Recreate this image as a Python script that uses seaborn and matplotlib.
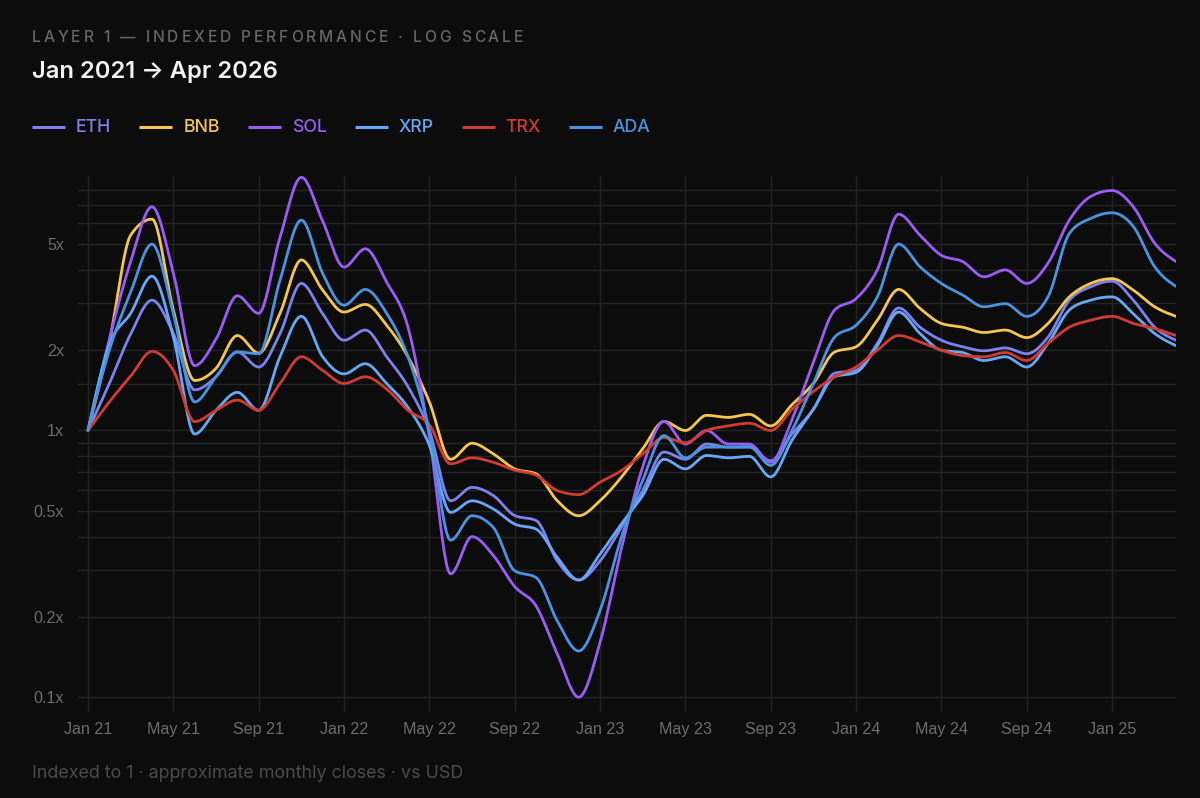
import numpy as np
import pandas as pd
import matplotlib
matplotlib.use("Agg")
import matplotlib.pyplot as plt
import seaborn as sns
from matplotlib.lines import Line2D
from matplotlib.ticker import FixedLocator, NullFormatter

# ---------------- data (indexed monthly closes, Jan 2021 .. Apr 2025) ----------------
series_names = ["ETH", "BNB", "SOL", "XRP", "TRX", "ADA"]
series_colors = ["#7b82ee", "#f4c64f", "#9b5cf6", "#67a8f6", "#d13b30", "#4a93e0"]

x_tick_labels = ["Jan 21", "May 21", "Sep 21", "Jan 22", "May 22", "Sep 22", "Jan 23",
                 "May 23", "Sep 23", "Jan 24", "May 24", "Sep 24", "Jan 25"]
y_tick_values = [0.1, 0.2, 0.5, 1, 2, 5]
y_tick_labels = ["0.1x", "0.2x", "0.5x", "1x", "2x", "5x"]
y_minor_values = [0.3, 0.4, 0.6, 0.7, 0.8, 0.9, 1.5, 3, 4, 6, 7, 8]

ETH = [1.0, 1.5, 2.3, 3.08, 2.31, 1.42, 1.59, 1.97, 1.73, 2.31, 3.56, 2.74, 2.18, 2.38, 1.89, 1.46,
       1.0, 0.545, 0.612, 0.57, 0.48, 0.46, 0.324, 0.275, 0.324, 0.433, 0.595, 0.83, 0.78, 0.89,
       0.866, 0.866, 0.77, 0.97, 1.2, 1.64, 1.68, 2.12, 2.88, 2.44, 2.18, 2.06, 1.99, 2.04, 1.94,
       2.24, 3.08, 3.46, 3.63, 3.08, 2.44, 2.18]
BNB = [1.0, 2.15, 5.4, 6.2, 2.83, 1.54, 1.71, 2.27, 1.95, 2.75, 4.36, 3.36, 2.78, 2.97, 2.48, 1.89,
       1.28, 0.78, 0.896, 0.817, 0.718, 0.688, 0.545, 0.479, 0.545, 0.668, 0.853, 1.08, 1.0, 1.14,
       1.12, 1.15, 1.04, 1.25, 1.5, 1.97, 2.06, 2.59, 3.38, 2.87, 2.52, 2.44, 2.33, 2.38, 2.23,
       2.52, 3.17, 3.56, 3.71, 3.36, 2.91, 2.68]
SOL = [1.0, 2.2, 4.3, 6.9, 3.9, 1.75, 2.2, 3.2, 2.75, 5.3, 8.9, 6.1, 4.1, 4.8, 3.6, 2.44,
       0.95, 0.29, 0.40, 0.34, 0.26, 0.22, 0.145, 0.100, 0.16, 0.36, 0.73, 1.08, 0.89, 1.0,
       0.89, 0.89, 0.76, 1.1, 1.8, 2.83, 3.12, 4.0, 6.47, 5.4, 4.54, 4.3, 3.77, 4.0, 3.56,
       4.24, 6.15, 7.54, 7.94, 6.9, 5.04, 4.3]
XRP = [1.0, 2.1, 2.75, 3.79, 2.25, 0.97, 1.19, 1.39, 1.19, 1.89, 2.68, 1.89, 1.63, 1.78, 1.50, 1.22,
       0.88, 0.493, 0.545, 0.508, 0.446, 0.427, 0.334, 0.275, 0.344, 0.446, 0.57, 0.78, 0.718, 0.806,
       0.79, 0.80, 0.67, 0.92, 1.2, 1.59, 1.65, 2.08, 2.78, 2.31, 2.0, 1.96, 1.83, 1.89, 1.73,
       2.12, 2.83, 3.08, 3.17, 2.74, 2.31, 2.08]
TRX = [1.0, 1.28, 1.6, 1.98, 1.68, 1.08, 1.19, 1.30, 1.19, 1.50, 1.89, 1.68, 1.50, 1.59, 1.43, 1.19,
       1.05, 0.75, 0.79, 0.76, 0.71, 0.68, 0.595, 0.575, 0.64, 0.707, 0.817, 0.94, 0.90, 1.0,
       1.04, 1.065, 1.0, 1.2, 1.4, 1.59, 1.73, 2.0, 2.27, 2.15, 2.0, 1.91, 1.89, 1.96, 1.83,
       2.12, 2.44, 2.59, 2.68, 2.52, 2.41, 2.27]
ADA = [1.0, 2.0, 3.3, 5.0, 2.75, 1.28, 1.59, 1.97, 1.94, 3.66, 6.15, 3.88, 2.95, 3.38, 2.75, 1.89,
       1.0, 0.388, 0.479, 0.433, 0.298, 0.281, 0.193, 0.149, 0.211, 0.397, 0.649, 0.957, 0.79, 0.866,
       0.866, 0.87, 0.74, 1.0, 1.5, 2.24, 2.48, 3.17, 5.0, 4.11, 3.56, 3.22, 2.91, 2.99, 2.68,
       3.17, 5.48, 6.24, 6.55, 5.82, 4.11, 3.47]

series_values = [ETH, BNB, SOL, XRP, TRX, ADA]


# ---------------- monotone (d3 curveMonotoneX-like) rendering of the monthly points ----------------
def monotone_path(y, steps=24):
    y = np.log10(np.asarray(y, float))
    n = len(y)
    s = np.diff(y)  # h = 1
    t = np.zeros(n)
    for i in range(1, n - 1):
        s0, s1 = s[i - 1], s[i]
        p = (s0 + s1) / 2.0
        t[i] = (np.sign(s0) + np.sign(s1)) * min(abs(s0), abs(s1), 0.5 * abs(p))
    t[0] = (3 * s[0] - t[1]) / 2.0
    t[-1] = (3 * s[-1] - t[-2]) / 2.0
    xs, ys = [], []
    u = np.linspace(0, 1, steps, endpoint=False)
    h00 = 2 * u**3 - 3 * u**2 + 1
    h10 = u**3 - 2 * u**2 + u
    h01 = -2 * u**3 + 3 * u**2
    h11 = u**3 - u**2
    for i in range(n - 1):
        xs.append(i + u)
        ys.append(h00 * y[i] + h10 * t[i] + h01 * y[i + 1] + h11 * t[i + 1])
    xs.append([n - 1])
    ys.append([y[-1]])
    return np.concatenate(xs), 10 ** np.concatenate(ys)


frames = []
for name, vals in zip(series_names, series_values):
    xx, yy = monotone_path(vals)
    frames.append(pd.DataFrame({"month": xx, "value": yy, "series": name}))
df = pd.concat(frames, ignore_index=True)

# ---------------- style ----------------
BG = "#0c0c0c"
GRID = "#242424"
sns.set_style("dark", {"axes.facecolor": BG, "figure.facecolor": BG})
plt.rcParams["font.family"] = ["Inter", "DejaVu Sans"]

W, H = 1200, 798
fig = plt.figure(figsize=(W / 100, H / 100), dpi=100, facecolor=BG)
ax_l, ax_r, ax_t, ax_b = 78, 1176, 176, 712
ax = fig.add_axes([ax_l / W, 1 - ax_b / H, (ax_r - ax_l) / W, (ax_b - ax_t) / H])
ax.set_facecolor(BG)

sns.lineplot(data=df, x="month", y="value", hue="series", hue_order=series_names,
             palette=dict(zip(series_names, series_colors)), estimator=None, sort=False,
             linewidth=2.0, legend=False, ax=ax)

ax.set_yscale("log")
ax.set_ylim(0.088, 9.0)
n_months = len(ETH)
ax.set_xlim(-10 / 21.33, n_months - 1)

ax.yaxis.set_major_locator(FixedLocator(y_tick_values))
ax.set_yticklabels(y_tick_labels)
ax.yaxis.set_minor_locator(FixedLocator(y_minor_values))
ax.yaxis.set_minor_formatter(NullFormatter())
ax.set_xticks(np.arange(0, n_months, 4)[:len(x_tick_labels)])
ax.set_xticklabels(x_tick_labels)

ax.grid(True, which="both", axis="y", color=GRID, linewidth=1.0)
ax.grid(True, which="major", axis="x", color=GRID, linewidth=1.0)
ax.set_axisbelow(True)
for sp in ax.spines.values():
    sp.set_visible(False)
ax.tick_params(axis="both", which="both", length=0, colors="#6c6c6c")
ax.tick_params(axis="y", pad=10)
ax.tick_params(axis="x", pad=7)
for lab in ax.get_xticklabels() + ax.get_yticklabels():
    lab.set_fontfamily(["Liberation Sans", "DejaVu Sans"])
    lab.set_fontsize(11.6)
    lab.set_color("#6c6c6c")
ax.set_xlabel("")
ax.set_ylabel("")

# ---------------- header / legend / footer ----------------
fig.canvas.draw()
renderer = fig.canvas.get_renderer()


def text_w(s, **kw):
    t = fig.text(0, 0, s, **kw)
    w = t.get_window_extent(renderer).width
    t.remove()
    return w


def fy(py):
    return 1 - py / H


# subtitle with letter spacing
sub = "LAYER 1 — INDEXED PERFORMANCE · LOG SCALE"
sub_kw = dict(fontsize=11.2, color="#666666", fontweight="medium")
nat = text_w(sub, **sub_kw)
track = (523 - 32 - nat) / (len(sub) - 1)
ref_w = text_w("I", **sub_kw)
for i, ch in enumerate(sub):
    if ch == " ":
        continue
    pre = text_w(sub[:i] + "I", **sub_kw) - ref_w if i > 0 else 0
    fig.text((32 + pre + i * track) / W, fy(38), ch, va="center", ha="left", **sub_kw)

# title
title = "Jan 2021 → Apr 2026"
t_kw = dict(color="#f2f2f2", fontweight="semibold")
tw = text_w(title, fontsize=16, **t_kw)
fig.text(32 / W, fy(72), title, fontsize=16 * (278 - 32) / tw, va="center", ha="left", **t_kw)

# legend
l_kw = dict(fontweight="medium")
lw_eth = text_w("ETH", fontsize=12, **l_kw)
lsize = 12 * 35.5 / lw_eth
x0 = 32
for name, col in zip(series_names, series_colors):
    fig.add_artist(Line2D([x0 / W, (x0 + 33) / W], [fy(127), fy(127)], color=col,
                          linewidth=2.2, solid_capstyle="butt"))
    t = fig.text((x0 + 44) / W, fy(127), name, color=col, fontsize=lsize, va="center",
                 ha="left", **l_kw)
    x0 = x0 + 44 + t.get_window_extent(renderer).width + 28

# footer
foot = "Indexed to 1 · approximate monthly closes · vs USD"
f_kw = dict(color="#4a4a4a")
fw = text_w(foot, fontsize=11, **f_kw)
fig.text(32 / W, fy(773), foot, fontsize=11 * (463 - 32) / fw, va="center", ha="left", **f_kw)

fig.savefig("out.png", dpi=100, facecolor=BG)
